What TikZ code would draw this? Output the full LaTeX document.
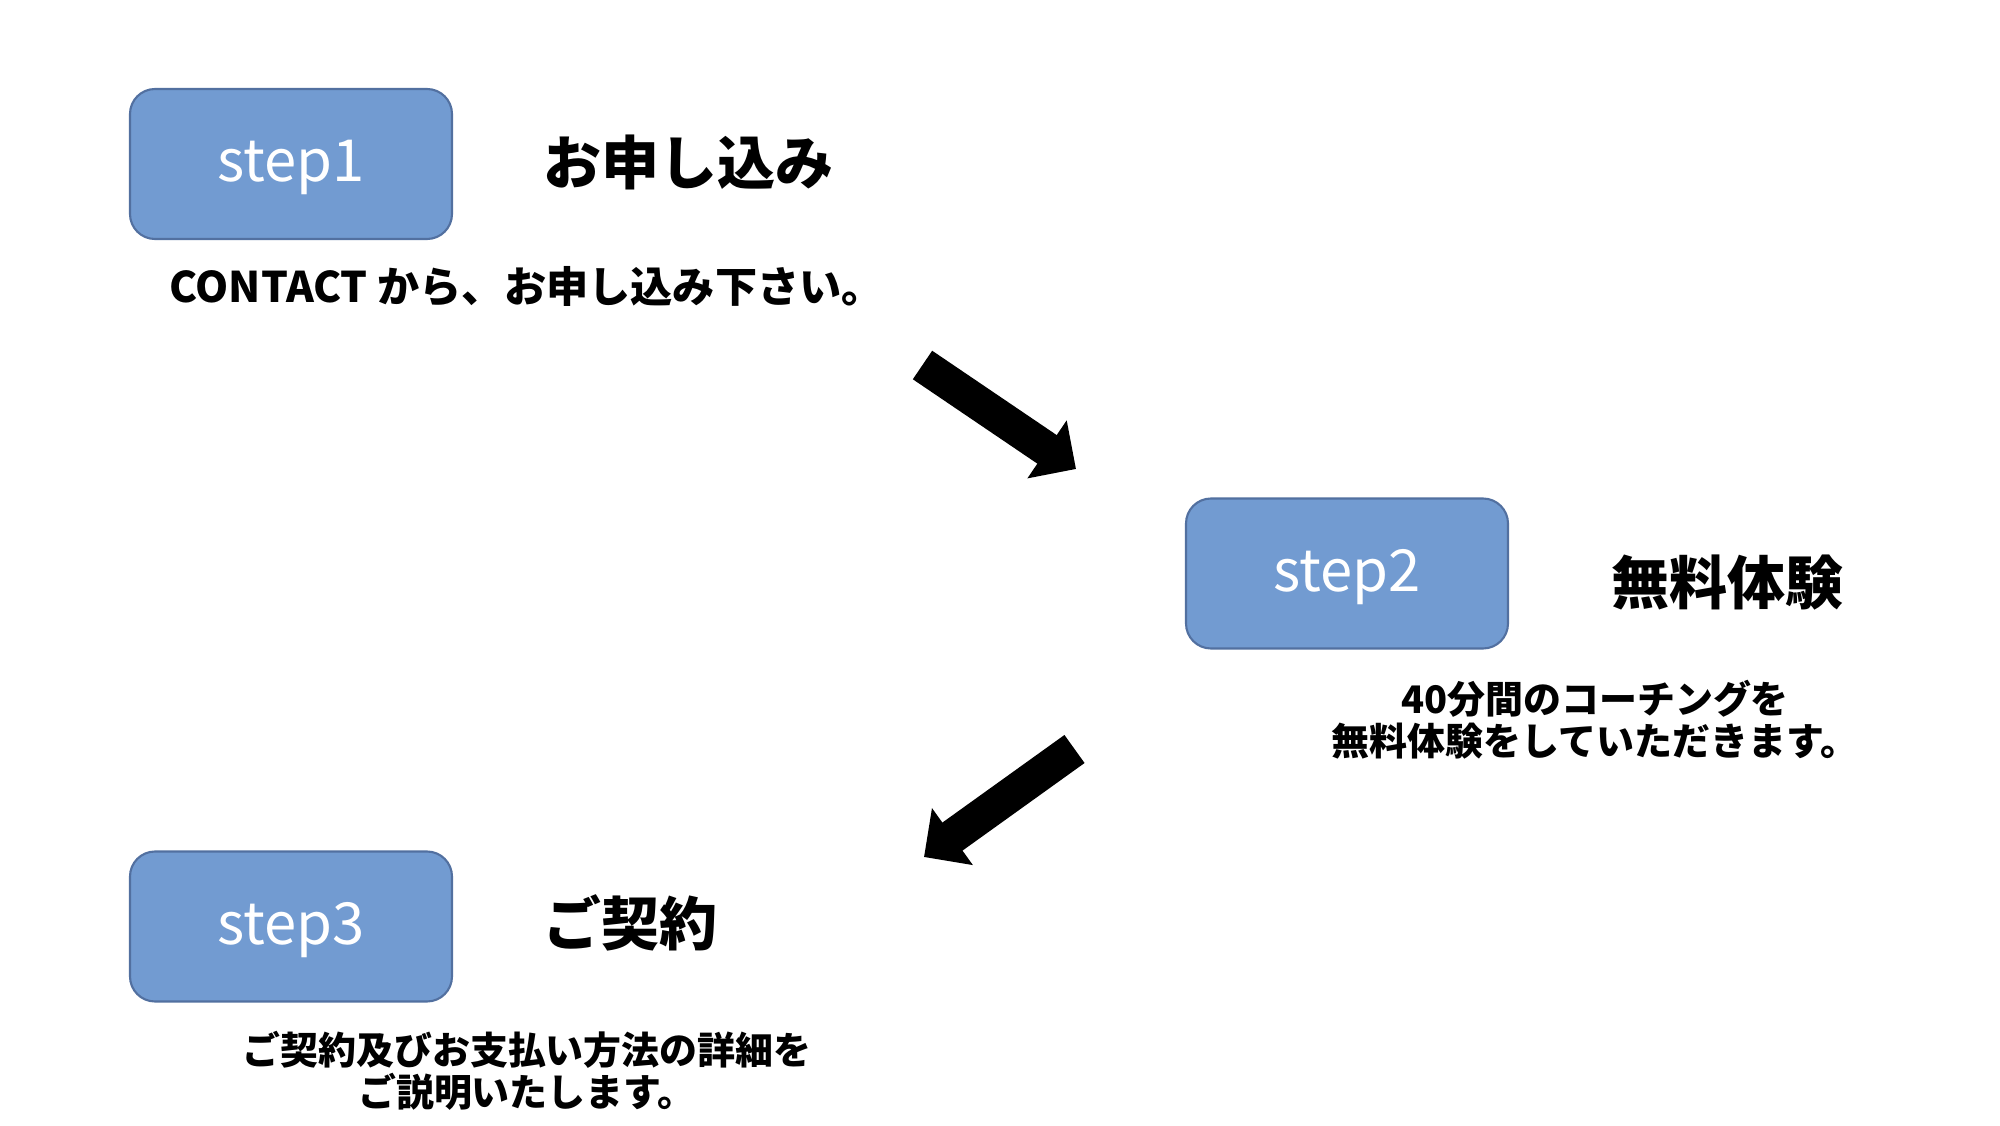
\documentclass[tikz,border=0pt]{standalone}
\usepackage{fontspec}
\setmainfont{Noto Sans CJK JP}
\usetikzlibrary{positioning,arrows.meta}
\definecolor{boxblue}{RGB}{114,155,209}
\definecolor{boxline}{RGB}{82,112,160}
\tikzset{
	>={Triangle[width=0.68cm,length=0.35cm]},
	stepbox/.style={
		rectangle,
		rounded corners=0.25cm,
		fill=boxblue,
		draw=boxline, line width=0.6pt,
		minimum width=3.22cm,
		minimum height=1.50cm,
		text=white,
		text height=0.42cm, text depth=0.06cm,
		font=\fontsize{16.5}{20}\selectfont},
	title/.style={font=\bfseries\fontsize{16.5}{20}\selectfont, inner sep=0pt},
	desc/.style={font=\bfseries\fontsize{10.8}{11.9}\selectfont, align=center, inner sep=0pt},
	bigarrow/.style={draw, line width=0.345cm, ->},
}
\begin{document}
\begin{tikzpicture}
			[node distance=0.9cm]
			\useasboundingbox (0,0) rectangle (20,11.25);
			% step 1
			\node[stepbox] (step1) at (2.91,9.61) {step1};
			\node[title, right=0.9cm of step1, yshift=0.02cm] (title1) {お申し込み};
			\node[desc, font=\bfseries\fontsize{12}{14}\selectfont] (desc1) at (5.265,8.38) {CONTACT から、お申し込み下さい。};
			% step 2
			\node[stepbox] (step2) at (13.47,5.515) {step2};
			\node[title, right=1.02cm of step2, yshift=-0.09cm] (title2) {無料体験};
			\node[desc] (desc2) at (15.95,4.05) {40分間のコーチングを\\無料体験をしていただきます。};
			% step 3
			\node[stepbox] (step3) at (2.91,1.985) {step3};
			\node[title, right=0.9cm of step3, yshift=0.04cm] (title3) {ご契約};
			\node[desc] (desc3) at (5.27,0.54) {ご契約及びお支払い方法の詳細を\\ご説明いたします。};
			% arrows
			\coordinate (a1s) at (9.225,7.60);
			\coordinate (a1e) at (10.76,6.56);
			\coordinate (a2s) at (10.745,3.76);
			\coordinate (a2e) at (9.24,2.68);
			\draw[bigarrow] (a1s) -- (a1e);
			\draw[bigarrow] (a2s) -- (a2e);
			\end{tikzpicture}
\end{document}
